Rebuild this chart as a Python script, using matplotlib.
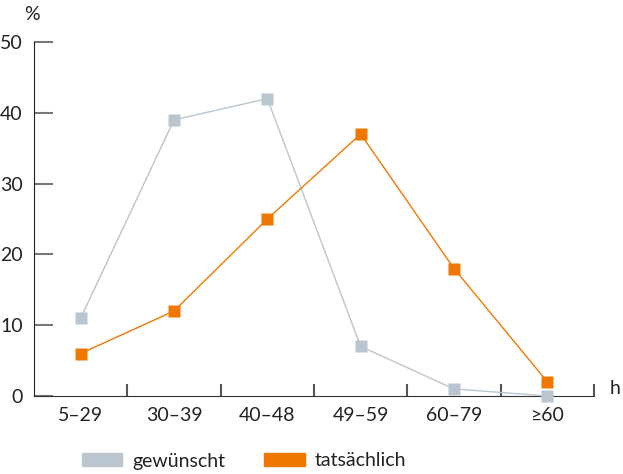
import matplotlib.pyplot as plt
from matplotlib.patches import Patch

plt.rcParams['font.family'] = ['Lato', 'DejaVu Sans']

categories = ['5–29', '30–39', '40–48', '49–59', '60–79', '≥60']
gewuenscht = [11, 39, 42, 7, 1, 0]
tatsaechlich = [6, 12, 25, 37, 18, 2]

grey = '#b9c6cf'
orange = '#f07800'

fig = plt.figure(figsize=(6.23, 4.74), dpi=100)
ax = fig.add_axes([0.0546, 0.1646, 0.8988, 0.7468])

x = range(len(categories))
ax.plot(x, gewuenscht, color=grey, lw=1, marker='s', ms=8, mec='none', clip_on=False, zorder=3)
ax.plot(x, tatsaechlich, color=orange, lw=1, marker='s', ms=8, mec='none', clip_on=False, zorder=4)

ax.set_xlim(-0.5, len(categories) - 0.5)
ax.set_ylim(0, 50)
ax.set_yticks(range(0, 51, 10))
ax.set_xticks([i + 0.5 for i in range(len(categories))])
ax.set_xticklabels([])
ax.set_xticks(list(x), minor=True)
ax.set_xticklabels(categories, minor=True)

for s in ['top', 'right']:
    ax.spines[s].set_visible(False)
ax.spines['left'].set_color('#222222')
ax.spines['bottom'].set_color('#333333')

ax.tick_params(axis='y', direction='in', length=14, width=1.5, color='#777777',
               labelsize=14, pad=8, labelcolor='#222222')
ax.tick_params(axis='x', which='major', direction='in', length=9, width=1.5, color='#555555')
ax.tick_params(axis='x', which='minor', length=0, labelsize=14, pad=8, labelcolor='#222222')

fig.text(32 / 623, 1 - 15 / 474, '%', fontsize=14, ha='center', va='center', color='#222222')
fig.text(615 / 623, 1 - 388 / 474, 'h', fontsize=14, ha='center', va='center', color='#222222')

handles = [Patch(color=grey, label='gewünscht'), Patch(color=orange, label='tatsächlich')]
fig.legend(handles=handles, loc='center left', bbox_to_anchor=(64 / 623, 1 - 461 / 474),
           ncol=2, frameon=False, fontsize=14, handlelength=2.1, handleheight=0.6,
           columnspacing=2.0, handletextpad=0.5, labelcolor='#222222')

fig.savefig('out.png', dpi=100)
